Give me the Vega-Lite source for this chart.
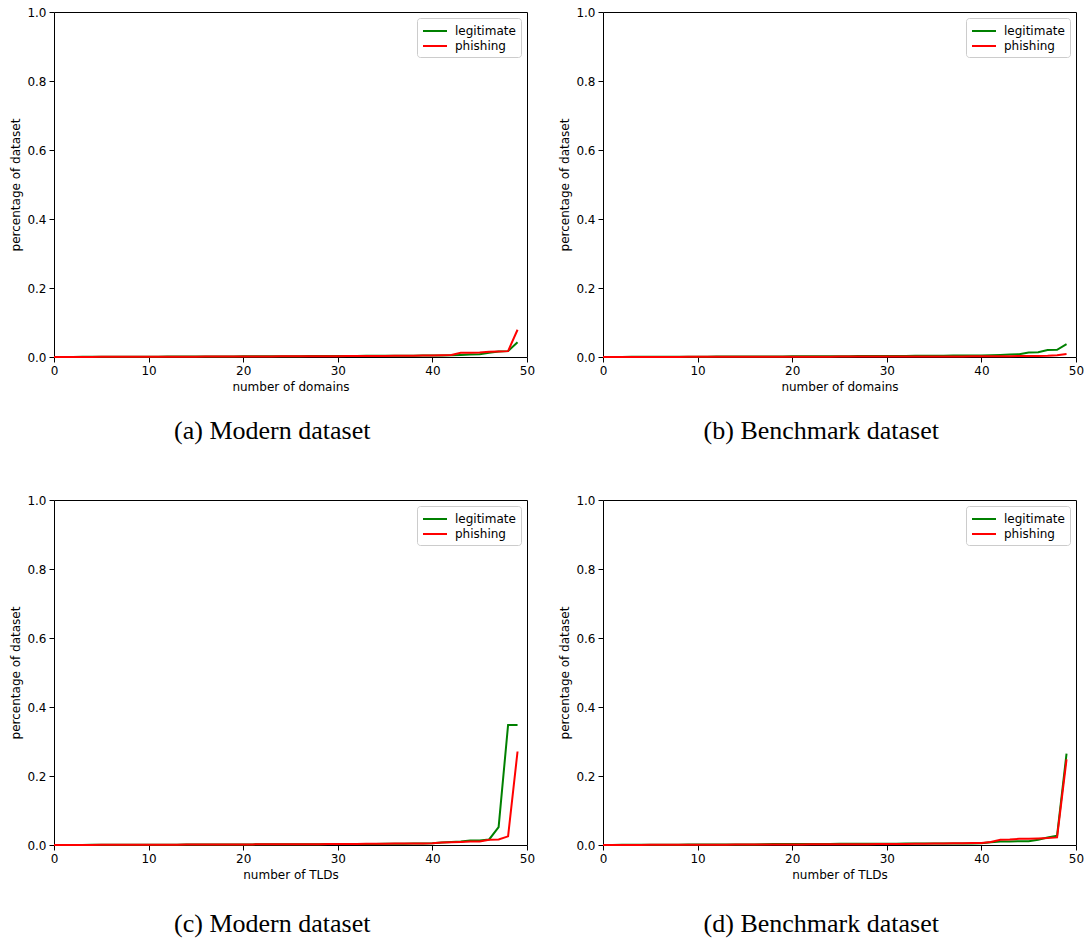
{
 "$schema": "https://vega.github.io/schema/vega-lite/v6.json",
 "background": "white",
 "padding": {"left": 9, "top": 5, "right": 4, "bottom": 5},
 "data": {"values": [
{"p":"a","x":0,"legitimate":0.0002,"phishing":0.0001},{"p":"a","x":1,"legitimate":0.0003,"phishing":0.0002},{"p":"a","x":2,"legitimate":0.0003,"phishing":0.0002},{"p":"a","x":3,"legitimate":0.0004,"phishing":0.0003},{"p":"a","x":4,"legitimate":0.0005,"phishing":0.0003},{"p":"a","x":5,"legitimate":0.0005,"phishing":0.0004},{"p":"a","x":6,"legitimate":0.0006,"phishing":0.0004},{"p":"a","x":7,"legitimate":0.0007,"phishing":0.0005},{"p":"a","x":8,"legitimate":0.0008,"phishing":0.0006},{"p":"a","x":9,"legitimate":0.0008,"phishing":0.0006},
{"p":"a","x":10,"legitimate":0.0009,"phishing":0.0007},{"p":"a","x":11,"legitimate":0.001,"phishing":0.0008},{"p":"a","x":12,"legitimate":0.0011,"phishing":0.0008},{"p":"a","x":13,"legitimate":0.0012,"phishing":0.0009},{"p":"a","x":14,"legitimate":0.0013,"phishing":0.001},{"p":"a","x":15,"legitimate":0.0014,"phishing":0.001},{"p":"a","x":16,"legitimate":0.0015,"phishing":0.0011},{"p":"a","x":17,"legitimate":0.0016,"phishing":0.0012},{"p":"a","x":18,"legitimate":0.0017,"phishing":0.0013},{"p":"a","x":19,"legitimate":0.0018,"phishing":0.0014},
{"p":"a","x":20,"legitimate":0.0019,"phishing":0.0015},{"p":"a","x":21,"legitimate":0.002,"phishing":0.0016},{"p":"a","x":22,"legitimate":0.0021,"phishing":0.0017},{"p":"a","x":23,"legitimate":0.0022,"phishing":0.0018},{"p":"a","x":24,"legitimate":0.0023,"phishing":0.0019},{"p":"a","x":25,"legitimate":0.0024,"phishing":0.002},{"p":"a","x":26,"legitimate":0.0025,"phishing":0.0021},{"p":"a","x":27,"legitimate":0.0026,"phishing":0.0022},{"p":"a","x":28,"legitimate":0.0027,"phishing":0.0023},{"p":"a","x":29,"legitimate":0.0028,"phishing":0.0024},
{"p":"a","x":30,"legitimate":0.003,"phishing":0.0025},{"p":"a","x":31,"legitimate":0.0031,"phishing":0.0026},{"p":"a","x":32,"legitimate":0.0032,"phishing":0.0027},{"p":"a","x":33,"legitimate":0.0033,"phishing":0.0028},{"p":"a","x":34,"legitimate":0.0034,"phishing":0.003},{"p":"a","x":35,"legitimate":0.0035,"phishing":0.0031},{"p":"a","x":36,"legitimate":0.0036,"phishing":0.0033},{"p":"a","x":37,"legitimate":0.0037,"phishing":0.0035},{"p":"a","x":38,"legitimate":0.0038,"phishing":0.0038},{"p":"a","x":39,"legitimate":0.004,"phishing":0.004},
{"p":"a","x":40,"legitimate":0.0042,"phishing":0.0043},{"p":"a","x":41,"legitimate":0.0045,"phishing":0.005},{"p":"a","x":42,"legitimate":0.005,"phishing":0.006},{"p":"a","x":43,"legitimate":0.006,"phishing":0.012},{"p":"a","x":44,"legitimate":0.007,"phishing":0.012},{"p":"a","x":45,"legitimate":0.008,"phishing":0.013},{"p":"a","x":46,"legitimate":0.012,"phishing":0.015},{"p":"a","x":47,"legitimate":0.016,"phishing":0.016},{"p":"a","x":48,"legitimate":0.017,"phishing":0.017},{"p":"a","x":49,"legitimate":0.043,"phishing":0.079},

{"p":"b","x":0,"legitimate":0.0002,"phishing":0.0001},{"p":"b","x":1,"legitimate":0.0003,"phishing":0.0001},{"p":"b","x":2,"legitimate":0.0003,"phishing":0.0001},{"p":"b","x":3,"legitimate":0.0004,"phishing":0.0002},{"p":"b","x":4,"legitimate":0.0005,"phishing":0.0002},{"p":"b","x":5,"legitimate":0.0005,"phishing":0.0002},{"p":"b","x":6,"legitimate":0.0006,"phishing":0.0003},{"p":"b","x":7,"legitimate":0.0007,"phishing":0.0003},{"p":"b","x":8,"legitimate":0.0008,"phishing":0.0003},{"p":"b","x":9,"legitimate":0.0008,"phishing":0.0004},
{"p":"b","x":10,"legitimate":0.0009,"phishing":0.0004},{"p":"b","x":11,"legitimate":0.001,"phishing":0.0004},{"p":"b","x":12,"legitimate":0.0011,"phishing":0.0005},{"p":"b","x":13,"legitimate":0.0012,"phishing":0.0005},{"p":"b","x":14,"legitimate":0.0013,"phishing":0.0005},{"p":"b","x":15,"legitimate":0.0014,"phishing":0.0006},{"p":"b","x":16,"legitimate":0.0015,"phishing":0.0006},{"p":"b","x":17,"legitimate":0.0016,"phishing":0.0007},{"p":"b","x":18,"legitimate":0.0017,"phishing":0.0007},{"p":"b","x":19,"legitimate":0.0018,"phishing":0.0008},
{"p":"b","x":20,"legitimate":0.0019,"phishing":0.0008},{"p":"b","x":21,"legitimate":0.002,"phishing":0.0009},{"p":"b","x":22,"legitimate":0.0021,"phishing":0.0009},{"p":"b","x":23,"legitimate":0.0022,"phishing":0.001},{"p":"b","x":24,"legitimate":0.0023,"phishing":0.001},{"p":"b","x":25,"legitimate":0.0024,"phishing":0.0011},{"p":"b","x":26,"legitimate":0.0025,"phishing":0.0011},{"p":"b","x":27,"legitimate":0.0026,"phishing":0.0012},{"p":"b","x":28,"legitimate":0.0027,"phishing":0.0012},{"p":"b","x":29,"legitimate":0.0028,"phishing":0.0013},
{"p":"b","x":30,"legitimate":0.003,"phishing":0.0013},{"p":"b","x":31,"legitimate":0.0031,"phishing":0.0014},{"p":"b","x":32,"legitimate":0.0032,"phishing":0.0014},{"p":"b","x":33,"legitimate":0.0033,"phishing":0.0015},{"p":"b","x":34,"legitimate":0.0034,"phishing":0.0015},{"p":"b","x":35,"legitimate":0.0036,"phishing":0.0016},{"p":"b","x":36,"legitimate":0.0038,"phishing":0.0016},{"p":"b","x":37,"legitimate":0.004,"phishing":0.0017},{"p":"b","x":38,"legitimate":0.0042,"phishing":0.0018},{"p":"b","x":39,"legitimate":0.0044,"phishing":0.0019},
{"p":"b","x":40,"legitimate":0.0046,"phishing":0.002},{"p":"b","x":41,"legitimate":0.005,"phishing":0.0022},{"p":"b","x":42,"legitimate":0.006,"phishing":0.0023},{"p":"b","x":43,"legitimate":0.007,"phishing":0.0025},{"p":"b","x":44,"legitimate":0.008,"phishing":0.0027},{"p":"b","x":45,"legitimate":0.013,"phishing":0.003},{"p":"b","x":46,"legitimate":0.014,"phishing":0.0032},{"p":"b","x":47,"legitimate":0.02,"phishing":0.0035},{"p":"b","x":48,"legitimate":0.021,"phishing":0.005},{"p":"b","x":49,"legitimate":0.037,"phishing":0.009},

{"p":"c","x":0,"legitimate":0.0001,"phishing":0.0001},{"p":"c","x":1,"legitimate":0.0002,"phishing":0.0002},{"p":"c","x":2,"legitimate":0.0002,"phishing":0.0002},{"p":"c","x":3,"legitimate":0.0003,"phishing":0.0003},{"p":"c","x":4,"legitimate":0.0004,"phishing":0.0003},{"p":"c","x":5,"legitimate":0.0004,"phishing":0.0004},{"p":"c","x":6,"legitimate":0.0005,"phishing":0.0005},{"p":"c","x":7,"legitimate":0.0006,"phishing":0.0005},{"p":"c","x":8,"legitimate":0.0006,"phishing":0.0006},{"p":"c","x":9,"legitimate":0.0007,"phishing":0.0007},
{"p":"c","x":10,"legitimate":0.0008,"phishing":0.0008},{"p":"c","x":11,"legitimate":0.0009,"phishing":0.0008},{"p":"c","x":12,"legitimate":0.0009,"phishing":0.0009},{"p":"c","x":13,"legitimate":0.001,"phishing":0.001},{"p":"c","x":14,"legitimate":0.0011,"phishing":0.0011},{"p":"c","x":15,"legitimate":0.0012,"phishing":0.0012},{"p":"c","x":16,"legitimate":0.0013,"phishing":0.0013},{"p":"c","x":17,"legitimate":0.0014,"phishing":0.0014},{"p":"c","x":18,"legitimate":0.0015,"phishing":0.0015},{"p":"c","x":19,"legitimate":0.0016,"phishing":0.0016},
{"p":"c","x":20,"legitimate":0.0017,"phishing":0.0017},{"p":"c","x":21,"legitimate":0.0018,"phishing":0.0018},{"p":"c","x":22,"legitimate":0.0019,"phishing":0.0019},{"p":"c","x":23,"legitimate":0.002,"phishing":0.002},{"p":"c","x":24,"legitimate":0.0021,"phishing":0.0021},{"p":"c","x":25,"legitimate":0.0022,"phishing":0.0022},{"p":"c","x":26,"legitimate":0.0023,"phishing":0.0023},{"p":"c","x":27,"legitimate":0.0024,"phishing":0.0024},{"p":"c","x":28,"legitimate":0.0025,"phishing":0.0025},{"p":"c","x":29,"legitimate":0.0026,"phishing":0.0027},
{"p":"c","x":30,"legitimate":0.0028,"phishing":0.0029},{"p":"c","x":31,"legitimate":0.0029,"phishing":0.003},{"p":"c","x":32,"legitimate":0.003,"phishing":0.0032},{"p":"c","x":33,"legitimate":0.0031,"phishing":0.0034},{"p":"c","x":34,"legitimate":0.0032,"phishing":0.0036},{"p":"c","x":35,"legitimate":0.0034,"phishing":0.0038},{"p":"c","x":36,"legitimate":0.0036,"phishing":0.004},{"p":"c","x":37,"legitimate":0.0038,"phishing":0.0042},{"p":"c","x":38,"legitimate":0.004,"phishing":0.0044},{"p":"c","x":39,"legitimate":0.0045,"phishing":0.0047},
{"p":"c","x":40,"legitimate":0.005,"phishing":0.005},{"p":"c","x":41,"legitimate":0.007,"phishing":0.007},{"p":"c","x":42,"legitimate":0.009,"phishing":0.008},{"p":"c","x":43,"legitimate":0.01,"phishing":0.009},{"p":"c","x":44,"legitimate":0.013,"phishing":0.01},{"p":"c","x":45,"legitimate":0.013,"phishing":0.01},{"p":"c","x":46,"legitimate":0.016,"phishing":0.015},{"p":"c","x":47,"legitimate":0.052,"phishing":0.016},{"p":"c","x":48,"legitimate":0.348,"phishing":0.025},{"p":"c","x":49,"legitimate":0.348,"phishing":0.271},

{"p":"d","x":0,"legitimate":0.0002,"phishing":0.0001},{"p":"d","x":1,"legitimate":0.0003,"phishing":0.0002},{"p":"d","x":2,"legitimate":0.0004,"phishing":0.0002},{"p":"d","x":3,"legitimate":0.0005,"phishing":0.0003},{"p":"d","x":4,"legitimate":0.0006,"phishing":0.0003},{"p":"d","x":5,"legitimate":0.0007,"phishing":0.0004},{"p":"d","x":6,"legitimate":0.0008,"phishing":0.0004},{"p":"d","x":7,"legitimate":0.0009,"phishing":0.0005},{"p":"d","x":8,"legitimate":0.001,"phishing":0.0005},{"p":"d","x":9,"legitimate":0.0011,"phishing":0.0006},
{"p":"d","x":10,"legitimate":0.0012,"phishing":0.0007},{"p":"d","x":11,"legitimate":0.0013,"phishing":0.0008},{"p":"d","x":12,"legitimate":0.0014,"phishing":0.0009},{"p":"d","x":13,"legitimate":0.0015,"phishing":0.001},{"p":"d","x":14,"legitimate":0.0016,"phishing":0.0011},{"p":"d","x":15,"legitimate":0.0017,"phishing":0.0012},{"p":"d","x":16,"legitimate":0.0018,"phishing":0.0013},{"p":"d","x":17,"legitimate":0.0025,"phishing":0.0014},{"p":"d","x":18,"legitimate":0.0026,"phishing":0.0015},{"p":"d","x":19,"legitimate":0.0027,"phishing":0.0016},
{"p":"d","x":20,"legitimate":0.0028,"phishing":0.0017},{"p":"d","x":21,"legitimate":0.0029,"phishing":0.0018},{"p":"d","x":22,"legitimate":0.003,"phishing":0.0019},{"p":"d","x":23,"legitimate":0.0031,"phishing":0.002},{"p":"d","x":24,"legitimate":0.0032,"phishing":0.0021},{"p":"d","x":25,"legitimate":0.0033,"phishing":0.0022},{"p":"d","x":26,"legitimate":0.0034,"phishing":0.0023},{"p":"d","x":27,"legitimate":0.0035,"phishing":0.0024},{"p":"d","x":28,"legitimate":0.0036,"phishing":0.0025},{"p":"d","x":29,"legitimate":0.0037,"phishing":0.0026},
{"p":"d","x":30,"legitimate":0.0038,"phishing":0.0028},{"p":"d","x":31,"legitimate":0.0039,"phishing":0.003},{"p":"d","x":32,"legitimate":0.004,"phishing":0.0032},{"p":"d","x":33,"legitimate":0.0041,"phishing":0.0034},{"p":"d","x":34,"legitimate":0.0042,"phishing":0.0036},{"p":"d","x":35,"legitimate":0.0043,"phishing":0.004},{"p":"d","x":36,"legitimate":0.0044,"phishing":0.0045},{"p":"d","x":37,"legitimate":0.0045,"phishing":0.005},{"p":"d","x":38,"legitimate":0.0046,"phishing":0.0053},{"p":"d","x":39,"legitimate":0.0047,"phishing":0.0056},
{"p":"d","x":40,"legitimate":0.0048,"phishing":0.006},{"p":"d","x":41,"legitimate":0.008,"phishing":0.009},{"p":"d","x":42,"legitimate":0.01,"phishing":0.015},{"p":"d","x":43,"legitimate":0.01,"phishing":0.016},{"p":"d","x":44,"legitimate":0.011,"phishing":0.018},{"p":"d","x":45,"legitimate":0.011,"phishing":0.018},{"p":"d","x":46,"legitimate":0.015,"phishing":0.019},{"p":"d","x":47,"legitimate":0.022,"phishing":0.02},{"p":"d","x":48,"legitimate":0.027,"phishing":0.022},{"p":"d","x":49,"legitimate":0.265,"phishing":0.248}
 ]},
 "columns": 2,
 "spacing": {"row": 48, "column": 22},
 "resolve": {"scale": {"color": "independent"}, "legend": {"color": "independent"}},
 "concat": [
  {
   "width": 473, "height": 345,
   "title": {"text": "(a) Modern dataset", "offset": 26},
   "transform": [{"filter": "datum.p === 'a'"}, {"fold": ["legitimate", "phishing"], "as": ["series", "value"]}],
   "mark": {"type": "line", "strokeWidth": 2},
   "encoding": {
    "x": {"field": "x", "type": "quantitative", "scale": {"domain": [0, 50], "nice": false, "zero": false}, "axis": {"title": "number of domains", "values": [0, 10, 20, 30, 40, 50], "format": "d"}},
    "y": {"field": "value", "type": "quantitative", "scale": {"domain": [0, 1], "nice": false}, "axis": {"title": "percentage of dataset", "values": [0, 0.2, 0.4, 0.6, 0.8, 1], "format": ".1f"}},
    "color": {"field": "series", "type": "nominal", "scale": {"domain": ["legitimate", "phishing"], "range": ["#008000", "#ff0000"]}, "legend": {"title": null, "orient": "top-right"}}
   }
  },
  {
   "width": 473, "height": 345,
   "title": {"text": "(b) Benchmark dataset", "offset": 26},
   "transform": [{"filter": "datum.p === 'b'"}, {"fold": ["legitimate", "phishing"], "as": ["series", "value"]}],
   "mark": {"type": "line", "strokeWidth": 2},
   "encoding": {
    "x": {"field": "x", "type": "quantitative", "scale": {"domain": [0, 50], "nice": false, "zero": false}, "axis": {"title": "number of domains", "values": [0, 10, 20, 30, 40, 50], "format": "d"}},
    "y": {"field": "value", "type": "quantitative", "scale": {"domain": [0, 1], "nice": false}, "axis": {"title": "percentage of dataset", "values": [0, 0.2, 0.4, 0.6, 0.8, 1], "format": ".1f"}},
    "color": {"field": "series", "type": "nominal", "scale": {"domain": ["legitimate", "phishing"], "range": ["#008000", "#ff0000"]}, "legend": {"title": null, "orient": "top-right"}}
   }
  },
  {
   "width": 473, "height": 345,
   "title": {"text": "(c) Modern dataset", "offset": 31},
   "transform": [{"filter": "datum.p === 'c'"}, {"fold": ["legitimate", "phishing"], "as": ["series", "value"]}],
   "mark": {"type": "line", "strokeWidth": 2},
   "encoding": {
    "x": {"field": "x", "type": "quantitative", "scale": {"domain": [0, 50], "nice": false, "zero": false}, "axis": {"title": "number of TLDs", "values": [0, 10, 20, 30, 40, 50], "format": "d"}},
    "y": {"field": "value", "type": "quantitative", "scale": {"domain": [0, 1], "nice": false}, "axis": {"title": "percentage of dataset", "values": [0, 0.2, 0.4, 0.6, 0.8, 1], "format": ".1f"}},
    "color": {"field": "series", "type": "nominal", "scale": {"domain": ["legitimate", "phishing"], "range": ["#008000", "#ff0000"]}, "legend": {"title": null, "orient": "top-right"}}
   }
  },
  {
   "width": 473, "height": 345,
   "title": {"text": "(d) Benchmark dataset", "offset": 31},
   "transform": [{"filter": "datum.p === 'd'"}, {"fold": ["legitimate", "phishing"], "as": ["series", "value"]}],
   "mark": {"type": "line", "strokeWidth": 2},
   "encoding": {
    "x": {"field": "x", "type": "quantitative", "scale": {"domain": [0, 50], "nice": false, "zero": false}, "axis": {"title": "number of TLDs", "values": [0, 10, 20, 30, 40, 50], "format": "d"}},
    "y": {"field": "value", "type": "quantitative", "scale": {"domain": [0, 1], "nice": false}, "axis": {"title": "percentage of dataset", "values": [0, 0.2, 0.4, 0.6, 0.8, 1], "format": ".1f"}},
    "color": {"field": "series", "type": "nominal", "scale": {"domain": ["legitimate", "phishing"], "range": ["#008000", "#ff0000"]}, "legend": {"title": null, "orient": "top-right"}}
   }
  }
 ],
 "config": {
  "view": {"stroke": "black", "strokeWidth": 1},
  "title": {"orient": "bottom", "anchor": "middle", "frame": "bounds", "font": "Liberation Serif", "fontSize": 26, "fontWeight": "normal", "color": "black"},
  "axis": {"domain": false, "grid": false, "tickColor": "black", "tickSize": 5, "tickWidth": 1, "labelFont": "DejaVu Sans", "labelFontSize": 12, "labelColor": "black", "labelPadding": 3, "labelFlush": false, "titleFont": "DejaVu Sans", "titleFontSize": 12, "titleFontWeight": "normal", "titleColor": "black"},
  "axisX": {"titlePadding": 5},
  "axisY": {"titlePadding": 4},
  "legend": {"fillColor": "white", "strokeColor": "#cccccc", "padding": 5, "cornerRadius": 3, "symbolType": "M-1.714,0H1.714", "symbolStrokeWidth": 2, "symbolSize": 196, "symbolOffset": 5, "labelFont": "DejaVu Sans", "labelFontSize": 12, "labelColor": "black", "labelOffset": 12, "offset": 6, "rowPadding": 1}
 }
}
